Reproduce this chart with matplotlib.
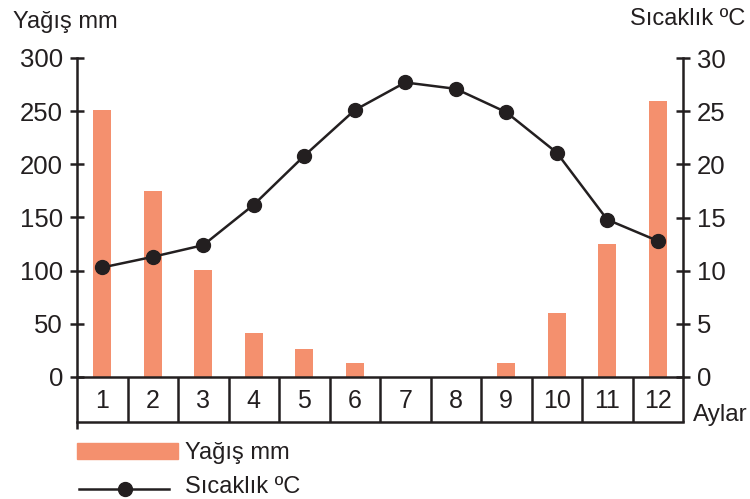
import matplotlib
matplotlib.use('Agg')
import matplotlib.pyplot as plt
import matplotlib.transforms as mtransforms
from matplotlib.lines import Line2D
from matplotlib.patches import Rectangle

# months and values
months = list(range(1, 13))
yagis_mm = [251, 175, 101, 41, 26, 13, 0, 0, 13, 60, 125, 260]
sicaklik_c = [10.3, 11.3, 12.4, 16.2, 20.8, 25.1, 27.7, 27.1, 24.9, 21.1, 14.8, 12.8]
left_ticks = [0, 50, 100, 150, 200, 250, 300]
right_ticks = [0, 5, 10, 15, 20, 25, 30]

BAR_COLOR = '#f4906e'
INK = '#231f20'
LW = 1.8

plt.rcParams['font.family'] = ['Liberation Sans', 'DejaVu Sans']

W, H = 750, 499
fig = plt.figure(figsize=(W / 100, H / 100), dpi=100)


def fx(px):
    return px / W


def fy(py):
    return 1 - py / H


# plot area in pixels: x 77..683, y 58..377
ax_h = 377 - 58
ax = fig.add_axes([fx(77), fy(377), (683 - 77) / W, ax_h / H])
ax.bar(months, yagis_mm, width=0.36, color=BAR_COLOR, zorder=2)
ax.set_xlim(0.5, 12.5)
ax.set_ylim(0, 300)
ax.set_yticks(left_ticks)
ax.set_xticks([])
for s in ['top', 'right']:
    ax.spines[s].set_visible(False)
for s in ['left', 'bottom']:
    ax.spines[s].set_linewidth(LW)
    ax.spines[s].set_color(INK)
ax.tick_params(axis='y', direction='inout', length=10, width=LW, color=INK,
               labelsize=18.5, labelcolor=INK, pad=5)

ax2 = ax.twinx()
ax2.plot(months, sicaklik_c, color=INK, lw=LW, marker='o', ms=10, zorder=3)
ax2.set_ylim(0, 30)
ax2.set_yticks(right_ticks)
for s in ['top', 'left', 'bottom']:
    ax2.spines[s].set_visible(False)
ax2.spines['right'].set_linewidth(LW)
ax2.spines['right'].set_color(INK)
ax2.tick_params(axis='y', direction='inout', length=10, width=LW, color=INK,
                labelsize=18.5, labelcolor=INK, pad=5)

# month boxes under the x axis
trans = mtransforms.blended_transform_factory(ax.transData, ax.transAxes)
cell_h = 45 / ax_h
edges = [m + 0.5 for m in range(0, 13)]
for i, e in enumerate(edges):
    bottom = -52 / ax_h if i == 0 else -cell_h
    ax.plot([e, e], [0, bottom], transform=trans, color=INK, lw=LW,
            clip_on=False, solid_capstyle='butt')
ax.plot([0.5, 12.5], [-cell_h, -cell_h], transform=trans, color=INK, lw=LW,
        clip_on=False, solid_capstyle='projecting')
for m in months:
    ax.text(m, -(408 - 377) / ax_h, str(m), transform=trans, ha='center',
            va='baseline', fontsize=18, color=INK)

ax.text(fx(693), fy(421), 'Aylar', transform=fig.transFigure, ha='left',
        va='baseline', fontsize=17.5, color=INK)

# axis titles
fig.text(fx(13), fy(28), 'Yağış mm', ha='left', va='baseline',
         fontsize=17, color=INK)
fig.text(fx(745), fy(25), 'Sıcaklık ºC', ha='right', va='baseline',
         fontsize=17, color=INK)

# legend drawn by hand
fig.patches.append(Rectangle((fx(77), fy(459)), (178 - 77) / W, 16 / H,
                             transform=fig.transFigure, color=BAR_COLOR))
fig.text(fx(185), fy(459), 'Yağış mm', ha='left', va='baseline',
         fontsize=17, color=INK)
fig.lines.append(Line2D([fx(79), fx(169)], [fy(489), fy(489)],
                        transform=fig.transFigure, color=INK, lw=LW))
fig.lines.append(Line2D([fx(125)], [fy(489)], transform=fig.transFigure,
                        color=INK, marker='o', ms=10, lw=0))
fig.text(fx(185), fy(493), 'Sıcaklık ºC', ha='left', va='baseline',
         fontsize=17, color=INK)

fig.savefig('out.png', dpi=100)
